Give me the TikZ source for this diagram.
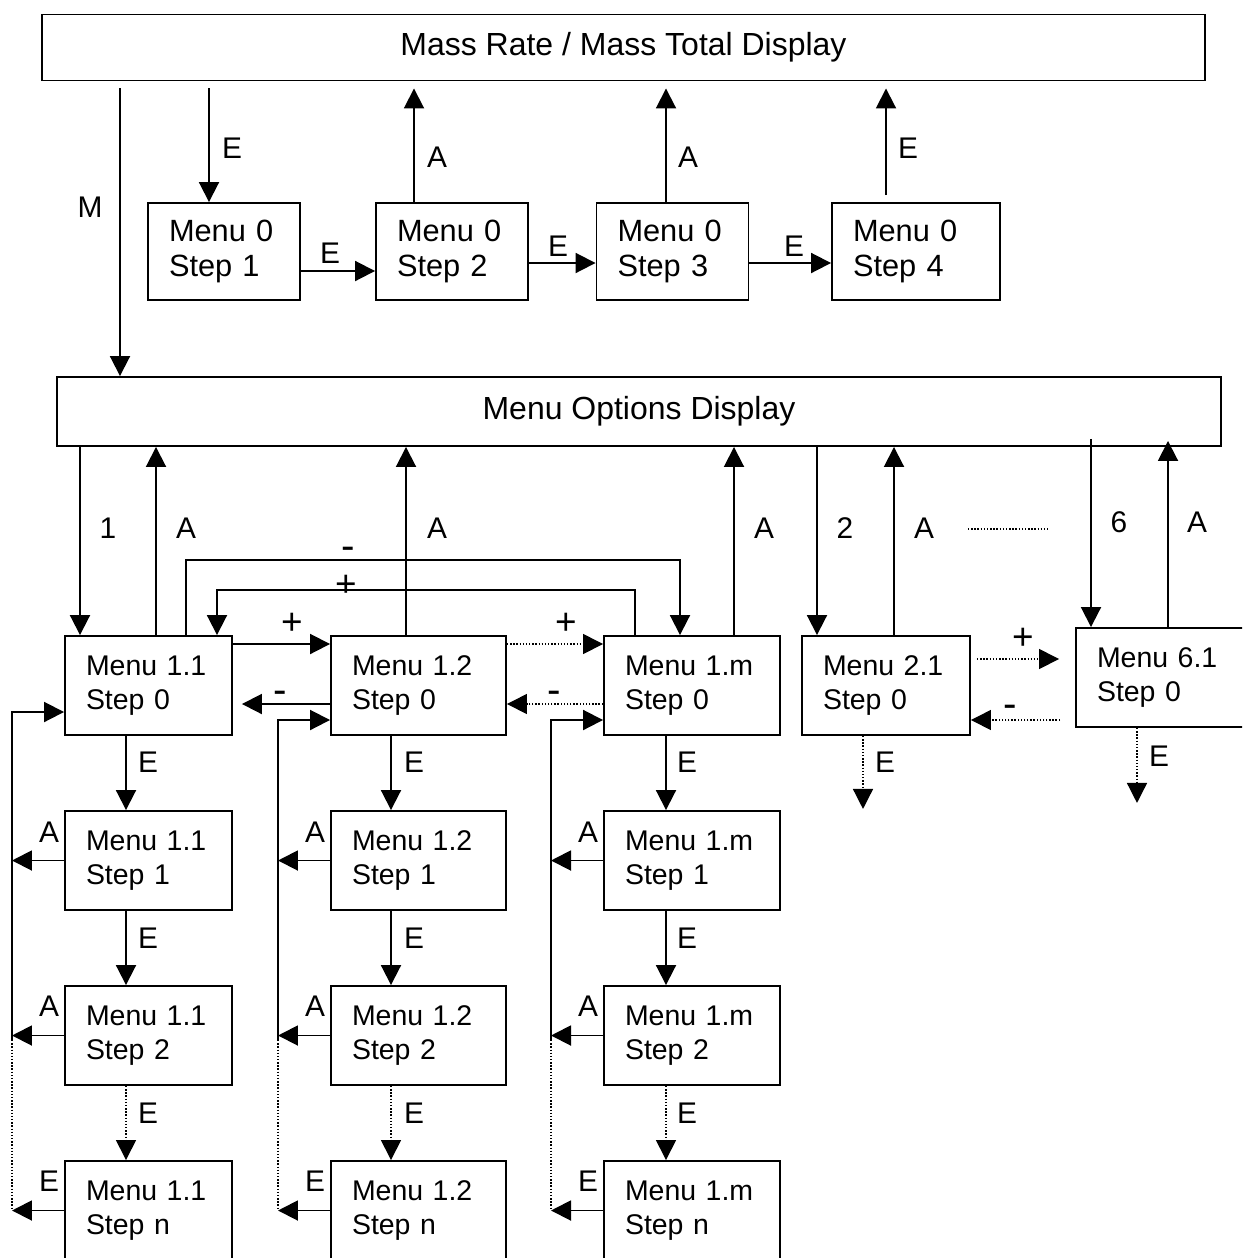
\documentclass[tikz,border=0pt]{standalone}
\usepackage{fontspec}
\setmainfont{Liberation Sans}
\usetikzlibrary{arrows.meta}

\tikzset{
  disp/.style={draw, line width=1.1pt, minimum width=23.26cm, minimum height=1.32cm, inner sep=0pt, font=\fontsize{18.2}{21}\selectfont},
  zerobox/.style={draw, line width=1.1pt, minimum height=1.94cm, inner xsep=0.42cm, inner ysep=0pt, align=left, font=\fontsize{17.5}{20}\selectfont},
  menubox/.style={draw, line width=1.1pt, minimum height=1.98cm, inner xsep=0.42cm, inner ysep=0pt, align=left, font=\fontsize{16.2}{19.3}\selectfont},
  arr/.style={line width=1.1pt, -{Triangle[length=0.4cm, width=0.4cm]}},
  dots/.style={line width=0.8pt, densely dotted},
  dotarr/.style={dots, -{Triangle[length=0.4cm, width=0.4cm]}},
  btn/.style={font=\fontsize{17}{20}\selectfont, inner sep=0pt},
  plus/.style={font=\fontsize{21}{24}\selectfont, inner sep=0pt},
  minus/.style={font=\fontsize{23}{26}\selectfont, inner sep=0pt}
}

\begin{document}
\begin{tikzpicture}[x=0.02cm, y=-0.02cm]
\useasboundingbox (0,0) rectangle (1242,1258);
\clip (0,0) rectangle (1242,1258);

% displays
\node[disp] (mr) at (623.5,47.5) {Mass Rate / Mass Total Display};
\node[disp, minimum width=23.28cm, minimum height=1.38cm] (mo) at (639,411.5) {Menu Options Display};

% menu 0
\node[zerobox, text width=2.2cm] (m01) at (224,251.5) {Menu 0\\Step 1};
\node[zerobox, text width=2.2cm] (m02) at (452,251.5) {Menu 0\\Step 2};
\node[zerobox, text width=2.2cm] (m03) at (672.5,251.5) {Menu 0\\Step 3};
\node[zerobox, text width=2.52cm] (m04) at (916,251.5) {Menu 0\\Step 4};

% menu 1.1
\node[menubox, text width=2.5cm] (a0) at (148.5,685.5) {Menu 1.1\\Step 0};
\node[menubox, text width=2.5cm] (a1) at (148.5,860.5) {Menu 1.1\\Step 1};
\node[menubox, text width=2.5cm] (a2) at (148.5,1035.5) {Menu 1.1\\Step 2};
\node[menubox, text width=2.5cm] (an) at (148.5,1210.5) {Menu 1.1\\Step n};

% menu 1.2
\node[menubox, text width=2.66cm] (b0) at (418.5,685.5) {Menu 1.2\\Step 0};
\node[menubox, text width=2.66cm] (b1) at (418.5,860.5) {Menu 1.2\\Step 1};
\node[menubox, text width=2.66cm] (b2) at (418.5,1035.5) {Menu 1.2\\Step 2};
\node[menubox, text width=2.66cm] (bn) at (418.5,1210.5) {Menu 1.2\\Step n};

% menu 1.m
\node[menubox, text width=2.68cm] (c0) at (692,685.5) {Menu 1.m\\Step 0};
\node[menubox, text width=2.68cm] (c1) at (692,860.5) {Menu 1.m\\Step 1};
\node[menubox, text width=2.68cm] (c2) at (692,1035.5) {Menu 1.m\\Step 2};
\node[menubox, text width=2.68cm] (cn) at (692,1210.5) {Menu 1.m\\Step n};

% menu 2.1 and 6.1
\node[menubox, text width=2.52cm] (m21) at (886,685.5) {Menu 2.1\\Step 0};
\node[menubox, text width=2.64cm] (m61) at (1163,677.5) {Menu 6.1\\Step 0};

% top part
\draw[arr, shorten <=0.14cm] (mr.south -| 120,0) -- (mo.north -| 120,0) node[btn] (lm) at (90,207) {M};
\draw[arr, shorten <=0.14cm] (mr.south -| 209,0) -- (m01.north -| 209,0) node[btn] (l01) at (232,148) {E};
\draw[arr] (m01.east |- 0,271) -- (m02.west |- 0,271) node[btn] (l02) at (330,253) {E};
\draw[arr] (m02.east |- 0,263) -- (m03.west |- 0,263) node[btn] (l03) at (558,246) {E};
\draw[arr] (m03.east |- 0,263) -- (m04.west |- 0,263) node[btn] (l04) at (794,246) {E};
\draw[arr, shorten >=0.14cm] (m02.north -| 414,0) -- (mr.south -| 414,0) node[btn] (l05) at (437,157) {A};
\draw[arr, shorten >=0.14cm] (m03.north -| 666,0) -- (mr.south -| 666,0) node[btn] (l06) at (688,157) {A};
\draw[arr, shorten <=0.14cm, shorten >=0.14cm] (m04.north -| 886,0) -- (mr.south -| 886,0) node[btn] (l07) at (908,148) {E};

% menu options to menus
\draw[arr] (mo.south -| 80,0) -- (a0.north -| 80,0) node[btn] (l11) at (108,528) {1};
\draw[arr] (a0.north -| 156,0) -- (mo.south -| 156,0) node[btn] (l12) at (186,528) {A};
\draw[arr] (b0.north -| 406,0) -- (mo.south -| 406,0) node[btn] (l13) at (437,528) {A};
\draw[arr] (c0.north -| 734,0) -- (mo.south -| 734,0) node[btn] (l14) at (764,528) {A};
\draw[arr] (mo.south -| 817,0) -- (m21.north -| 817,0) node[btn] (l15) at (845,528) {2};
\draw[arr] (m21.north -| 894,0) -- (mo.south -| 894,0) node[btn] (l16) at (924,528) {A};
\draw[arr, shorten <=-0.16cm] (mo.south -| 1091,0) -- (m61.north -| 1091,0) node[btn] (l17) at (1119,522) {6};
\draw[arr, shorten >=-0.12cm] (m61.north -| 1168,0) -- (mo.south -| 1168,0) node[btn] (l18) at (1197,522) {A};
\draw[dots, line width=0.6pt] (968,529) -- (1050,529);

% scrolling between menus
\draw[arr] (a0.north -| 186,0) |- (680,560) -- (c0.north -| 680,0) node[minus] (l21) at (348,553.7) {-};
\draw[arr] (c0.north -| 635,0) |- (217,590) -- (a0.north -| 217,0) node[plus] (l22) at (346,586) {+};
\draw[arr] (a0.east |- 0,644) -- (b0.west |- 0,644) node[plus] (l23) at (292,624) {+};
\draw[dotarr] (b0.east |- 0,644) -- (c0.west |- 0,644) node[plus] (l24) at (566,624) {+};
\draw[arr, shorten >=0.18cm] (b0.west |- 0,704) -- (a0.east |- 0,704) node[minus] (l25) at (280,697.7) {-};
\draw[dotarr] (c0.west |- 0,704) -- (b0.east |- 0,704) node[minus] (l26) at (554,697.7) {-};
\draw[dotarr, shorten <=0.12cm, shorten >=0.32cm] (m21.east |- 0,659) -- (m61.west |- 0,659) node[plus] (l27) at (1023,639) {+};
\draw[dotarr, shorten <=0.3cm] (m61.west |- 0,720) -- (m21.east |- 0,720) node[minus] (l28) at (1010,711.7) {-};
\draw[dotarr] (m21.south -| 863,0) -- ++(0,73) node[btn] (l29) at (885,762) {E};
\draw[dotarr] (m61.south -| 1137,0) -- ++(0,75) node[btn] (l30) at (1159,756) {E};

% menu 1.1 steps
\coordinate (ra) at (12,1040);
\draw[arr] (a0.south -| 126,0) -- (a1.north -| 126,0) node[btn] (l31) at (148,762) {E};
\draw[arr] (a1.south -| 126,0) -- (a2.north -| 126,0) node[btn] (l32) at (148,938) {E};
\draw[dotarr] (a2.south -| 126,0) -- (an.north -| 126,0) node[btn] (l33) at (148,1113) {E};
\draw[arr] (a1.west) -- (a1.west -| ra) node[btn] (l34) at (49,832) {A};
\draw[arr] (a2.west) -- (a2.west -| ra) node[btn] (l35) at (49,1006) {A};
\draw[arr] (an.west) -- (an.west -| ra) node[btn] (l36) at (49,1181) {E};
\draw[arr] (ra) |- (a0.west |- 0,712);
\draw[dots] (ra) -- (an.west -| ra);

% menu 1.2 steps
\coordinate (rb) at (278,1040);
\draw[arr] (b0.south -| 391,0) -- (b1.north -| 391,0) node[btn] (l41) at (414,762) {E};
\draw[arr] (b1.south -| 391,0) -- (b2.north -| 391,0) node[btn] (l42) at (414,938) {E};
\draw[dotarr] (b2.south -| 391,0) -- (bn.north -| 391,0) node[btn] (l43) at (414,1113) {E};
\draw[arr] (b1.west) -- (b1.west -| rb) node[btn] (l44) at (315,832) {A};
\draw[arr] (b2.west) -- (b2.west -| rb) node[btn] (l45) at (315,1006) {A};
\draw[arr] (bn.west) -- (bn.west -| rb) node[btn] (l46) at (315,1181) {E};
\draw[arr] (rb) |- (b0.west |- 0,720);
\draw[dots] (rb) -- (bn.west -| rb);

% menu 1.m steps
\coordinate (rc) at (551,1040);
\draw[arr] (c0.south -| 666,0) -- (c1.north -| 666,0) node[btn] (l51) at (687,762) {E};
\draw[arr] (c1.south -| 666,0) -- (c2.north -| 666,0) node[btn] (l52) at (687,938) {E};
\draw[dotarr] (c2.south -| 666,0) -- (cn.north -| 666,0) node[btn] (l53) at (687,1113) {E};
\draw[arr] (c1.west) -- (c1.west -| rc) node[btn] (l54) at (588,832) {A};
\draw[arr] (c2.west) -- (c2.west -| rc) node[btn] (l55) at (588,1006) {A};
\draw[arr] (cn.west) -- (cn.west -| rc) node[btn] (l56) at (588,1181) {E};
\draw[arr] (rc) |- (c0.west |- 0,720);
\draw[dots] (rc) -- (cn.west -| rc);
\end{tikzpicture}
\end{document}
